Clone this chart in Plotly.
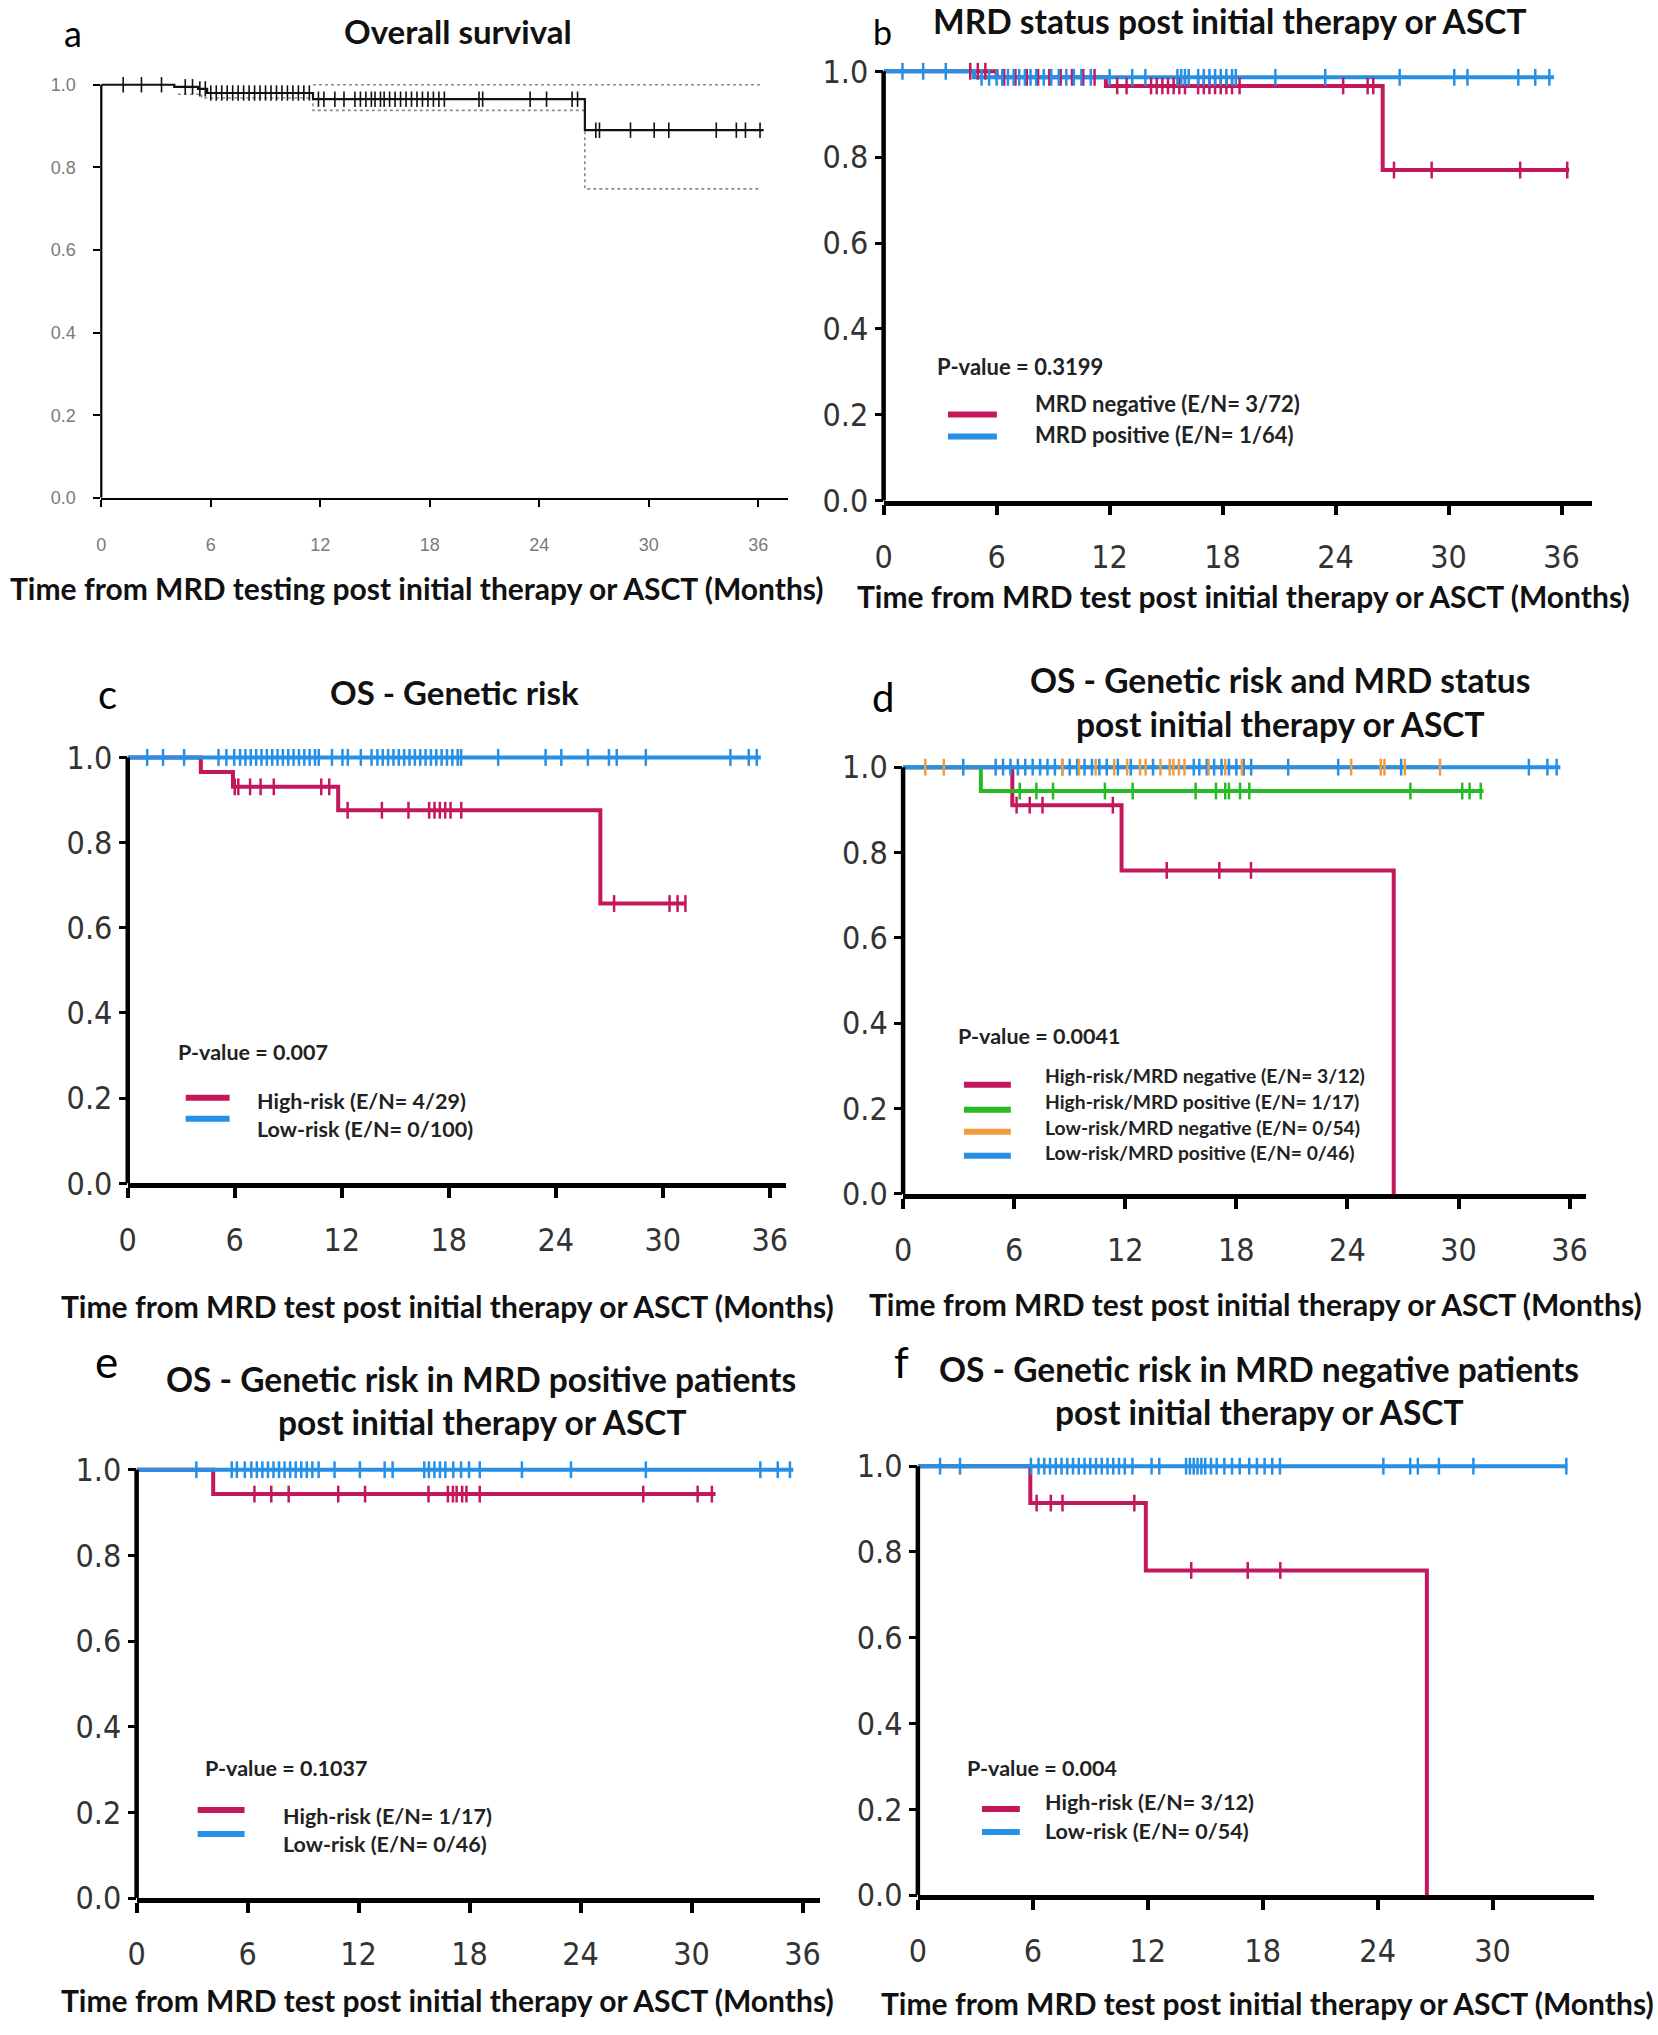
import plotly.graph_objects as go

W, H = 1658, 2035

CRIMSON = "#C4185C"
BLUE = "#2590E6"
GREEN = "#25BB25"
ORANGE = "#F29C40"
GREY = "#8C8C8C"

# ---------------- data ----------------
# panel a: overall survival
a_t = [0, 4.0, 5.3, 5.8, 11.6, 26.5]
a_s = [1.0, 0.995, 0.99, 0.98, 0.965, 0.89]
a_end = 36.3
a_lo_t = [4.2, 5.5, 11.6, 26.5]
a_lo_s = [0.977, 0.968, 0.938, 0.748]
a_hi_t = [11.6]
a_hi_s = [1.0]
a_ci_end = 36.1
a_cens = [1.2, 2.2, 3.3, 4.6, 5.0, 5.4, 5.7, 6.0, 6.3, 6.6, 6.9, 7.2, 7.5, 7.8, 8.1, 8.4, 8.7,
          9.0, 9.3, 9.6, 9.9, 10.2, 10.5, 10.8, 11.1, 11.4, 11.9, 12.2, 12.8, 13.3, 13.9, 14.2,
          14.5, 14.8, 15.0, 15.3, 15.5, 15.8, 16.1, 16.4, 16.7, 17.0, 17.3, 17.6, 17.9, 18.2,
          18.5, 18.8, 20.7, 20.9, 23.5, 24.4, 25.8, 26.1, 27.1, 27.3, 29.0, 30.3, 31.1, 33.7,
          34.8, 35.3, 36.1]

# panel b: MRD status
b_neg_t = [0, 6.0, 11.8, 26.5]
b_neg_s = [1.0, 0.986, 0.966, 0.77]
b_neg_end = 36.4
b_neg_cens = [4.6, 5.0, 5.4, 6.4, 7.0, 7.6, 8.2, 8.8, 9.4, 10.0, 10.6, 11.2, 12.4, 12.9, 14.2,
              14.5, 14.8, 15.1, 15.4, 15.7, 16.0, 16.7, 17.0, 17.3, 17.6, 17.9, 18.2, 18.5, 18.9,
              24.4, 25.7, 26.0, 27.1, 29.1, 33.8, 36.3]
b_pos_t = [0, 4.8]
b_pos_s = [1.0, 0.986]
b_pos_end = 35.6
b_pos_cens = [1.0, 2.1, 3.3, 5.2, 5.6, 6.0, 6.3, 6.6, 6.9, 7.2, 7.5, 7.8, 8.1, 8.5, 8.9, 9.3,
              9.7, 10.1, 10.5, 11.0, 12.0, 13.2, 13.9, 15.6, 15.8, 16.0, 16.2, 16.7, 17.0, 17.3,
              17.6, 17.9, 18.2, 18.5, 18.7, 20.8, 23.45, 27.4, 30.3, 31.0, 33.7, 34.6, 35.35]

# panel c: genetic risk
c_hr_t = [0, 4.1, 5.9, 11.8, 26.5]
c_hr_s = [1.0, 0.966, 0.931, 0.876, 0.657]
c_hr_end = 31.3
c_hr_cens = [6.0, 6.2, 6.86, 7.45, 8.19, 10.85, 11.3, 12.33, 14.25, 15.74, 16.9, 17.2, 17.5,
             17.8, 18.1, 18.7, 27.27, 30.38, 30.83, 31.27]
c_lr_t = [0]
c_lr_s = [1.0]
c_lr_end = 35.5
c_lr_cens = [1.09, 1.98, 3.16, 5.09, 5.53, 5.97, 6.3, 6.6, 6.9, 7.2, 7.5, 7.8, 8.1, 8.4, 8.7,
             9.0, 9.3, 9.6, 9.9, 10.2, 10.5, 10.71, 11.45, 12.04, 12.34, 13.07, 13.67, 14.0,
             14.3, 14.6, 14.9, 15.2, 15.5, 15.8, 16.1, 16.4, 16.7, 17.0, 17.3, 17.6, 17.9, 18.2,
             18.5, 18.69, 20.77, 23.43, 24.31, 25.8, 26.98, 27.42, 29.05, 33.79, 34.82, 35.27]

# panel d: genetic risk and MRD status
d_hrn_t = [0, 5.9, 11.8, 26.5]
d_hrn_s = [1.0, 0.911, 0.758, 0.0]
d_hrn_end = 26.5
d_hrn_cens = [6.13, 6.84, 7.53, 11.33, 14.24, 17.08, 18.79]
d_hrp_t = [0, 4.2]
d_hrp_s = [1.0, 0.944]
d_hrp_end = 31.35
d_hrp_cens = [6.3, 7.2, 8.1, 10.9, 12.4, 15.8, 16.9, 17.4, 17.6, 18.2, 18.7, 27.4, 30.2, 30.6,
              31.2]
d_lrn_t = [0]
d_lrn_s = [1.0]
d_lrn_end = 29.0
d_lrn_cens = [1.2, 2.2, 8.6, 9.5, 10.4, 11.4, 12.1, 12.8, 13.1, 13.9, 14.4, 14.6, 14.9, 15.2,
              16.5, 17.4, 18.3, 24.2, 25.8, 26.0, 27.1, 29.0]
d_lrp_t = [0]
d_lrp_s = [1.0]
d_lrp_end = 35.5
d_lrp_cens = [3.25, 5.0, 5.4, 5.8, 6.2, 6.6, 7.0, 7.4, 7.8, 8.2, 8.6, 9.0, 9.4, 9.8, 10.2, 10.6,
              11.0, 11.6, 12.3, 13.5, 15.7, 16.0, 16.4, 16.8, 17.2, 17.6, 18.0, 18.4, 18.8, 20.8,
              23.5, 26.9, 33.8, 34.8, 35.3]

# panel e: genetic risk in MRD positive
e_hr_t = [0, 4.14]
e_hr_s = [1.0, 0.943]
e_hr_end = 31.3
e_hr_cens = [6.37, 7.28, 8.22, 10.9, 12.35, 15.78, 16.83, 17.1, 17.3, 17.6, 17.83, 18.55, 27.39,
             30.33, 31.1]
e_lr_t = [0]
e_lr_s = [1.0]
e_lr_end = 35.5
e_lr_cens = [3.23, 5.14, 5.42, 5.85, 6.2, 6.5, 6.8, 7.1, 7.4, 7.7, 8.0, 8.3, 8.6, 8.9, 9.2, 9.5,
             9.84, 10.7, 12.07, 13.41, 13.84, 15.55, 15.8, 16.1, 16.4, 16.69, 17.12, 17.54,
             17.97, 18.55, 20.83, 23.48, 27.53, 33.72, 34.66, 35.32]

# panel f: genetic risk in MRD negative
f_hr_t = [0, 5.87, 11.9, 26.57]
f_hr_s = [1.0, 0.914, 0.757, 0.0]
f_hr_end = 26.57
f_hr_cens = [6.2, 6.94, 7.55, 11.3, 14.27, 17.22, 18.92]
f_lr_t = [0]
f_lr_s = [1.0]
f_lr_end = 33.9
f_lr_cens = [1.16, 2.2, 5.9, 6.3, 6.6, 6.9, 7.2, 7.5, 7.8, 8.1, 8.4, 8.7, 9.0, 9.3, 9.6, 9.9,
             10.2, 10.5, 10.8, 11.2, 12.2, 12.6, 14.0, 14.2, 14.4, 14.6, 14.8, 15.0, 15.3, 15.6,
             16.0, 16.4, 16.8, 17.3, 17.7, 18.1, 18.5, 18.9, 24.3, 25.7, 26.1, 27.2, 29.0, 33.85]

x_ticks_36 = [0, 6, 12, 18, 24, 30, 36]
x_ticks_30 = [0, 6, 12, 18, 24, 30]
y_ticks = [0.0, 0.2, 0.4, 0.6, 0.8, 1.0]

# ---------------- layout geometry (target pixels) ----------------
SPEC = {
    1: dict(x0=99.4, ppm=18.289, xmax=37.65, y0=496.2, ppu=412.4),
    2: dict(x0=883.5, ppm=18.875, xmax=37.6, y0=499.0, ppu=428.6),
    3: dict(x0=125.9, ppm=17.875, xmax=36.9, y0=1180.5, ppu=425.2),
    4: dict(x0=903.0, ppm=18.556, xmax=36.9, y0=1191.0, ppu=426.0),
    5: dict(x0=134.8, ppm=18.539, xmax=36.94, y0=1894.0, ppu=427.7),
    6: dict(x0=917.8, ppm=19.2, xmax=35.3, y0=1891.0, ppu=428.2),
}
YTOP = 1.02

# correction measured between requested and photographed positions
SX, CX = 0.9956, 6.9
SY, CY = 0.984, 9.2
TEXT_DY = -4.5


def fx(px):
    return (px - CX) / SX


def fy(py):
    return (py - CY) / SY


fig = go.Figure()


def surv_at(ts, ss, t):
    s = ss[0]
    for ti, si in zip(ts, ss):
        if t >= ti:
            s = si
    return s


def add_curve(n, ts, ss, end, color, width, dash="solid"):
    sfx = "" if n == 1 else str(n)
    fig.add_trace(go.Scatter(
        x=list(ts) + [end], y=list(ss) + [ss[-1]], mode="lines",
        line=dict(color=color, width=width, shape="hv", dash=dash),
        xaxis="x" + sfx, yaxis="y" + sfx, showlegend=False, hoverinfo="skip"))


def add_cens(n, ts, ss, cens, color, size=12, lw=2.5):
    sfx = "" if n == 1 else str(n)
    fig.add_trace(go.Scatter(
        x=cens, y=[surv_at(ts, ss, c) for c in cens], mode="markers",
        marker=dict(symbol="line-ns", size=size, line=dict(width=lw, color=color)),
        xaxis="x" + sfx, yaxis="y" + sfx, showlegend=False, cliponaxis=False,
        hoverinfo="skip"))


# panel a
add_curve(1, a_hi_t, a_hi_s, a_ci_end, GREY, 1.6, "dot")
add_curve(1, a_lo_t, a_lo_s, a_ci_end, GREY, 1.6, "dot")
add_curve(1, a_t, a_s, a_end, "#111111", 2.2)
add_cens(1, a_t, a_s, a_cens, "#111111", size=11, lw=1.6)

# panel b
add_curve(2, b_neg_t, b_neg_s, b_neg_end, CRIMSON, 4)
add_curve(2, b_pos_t, b_pos_s, b_pos_end, BLUE, 4)
add_cens(2, b_neg_t, b_neg_s, b_neg_cens, CRIMSON)
add_cens(2, b_pos_t, b_pos_s, b_pos_cens, BLUE)

# panel c
add_curve(3, c_hr_t, c_hr_s, c_hr_end, CRIMSON, 4)
add_curve(3, c_lr_t, c_lr_s, c_lr_end, BLUE, 4)
add_cens(3, c_hr_t, c_hr_s, c_hr_cens, CRIMSON)
add_cens(3, c_lr_t, c_lr_s, c_lr_cens, BLUE)

# panel d
add_curve(4, d_hrn_t, d_hrn_s, d_hrn_end, CRIMSON, 4)
add_curve(4, d_hrp_t, d_hrp_s, d_hrp_end, GREEN, 4)
add_curve(4, d_lrn_t, d_lrn_s, d_lrn_end, ORANGE, 4)
add_curve(4, d_lrp_t, d_lrp_s, d_lrp_end, BLUE, 4)
add_cens(4, d_hrn_t, d_hrn_s, d_hrn_cens, CRIMSON)
add_cens(4, d_hrp_t, d_hrp_s, d_hrp_cens, GREEN)
add_cens(4, d_lrp_t, d_lrp_s, d_lrp_cens, BLUE)
add_cens(4, d_lrn_t, d_lrn_s, d_lrn_cens, ORANGE)

# panel e
add_curve(5, e_hr_t, e_hr_s, e_hr_end, CRIMSON, 4)
add_curve(5, e_lr_t, e_lr_s, e_lr_end, BLUE, 4)
add_cens(5, e_hr_t, e_hr_s, e_hr_cens, CRIMSON)
add_cens(5, e_lr_t, e_lr_s, e_lr_cens, BLUE)

# panel f
add_curve(6, f_hr_t, f_hr_s, f_hr_end, CRIMSON, 4)
add_curve(6, f_lr_t, f_lr_s, f_lr_end, BLUE, 4)
add_cens(6, f_hr_t, f_hr_s, f_hr_cens, CRIMSON)
add_cens(6, f_lr_t, f_lr_s, f_lr_cens, BLUE)

# ---------------- axes ----------------
TICKFONT = "Liberation Sans Narrow, DejaVu Sans Condensed, Arial Narrow, Liberation Sans, sans-serif"
layout = {}
shapes = []
for n, sp in SPEC.items():
    sfx = "" if n == 1 else str(n)
    small = n == 1
    x0 = fx(sp["x0"])
    ppm = sp["ppm"] / SX
    y0 = fy(sp["y0"])
    ppu = sp["ppu"] / SY
    xd = [x0 / W, (x0 + ppm * sp["xmax"]) / W]
    yd = [1 - y0 / H, 1 - (y0 - ppu * YTOP) / H]
    xt = x_ticks_30 if n == 6 else x_ticks_36
    layout["xaxis" + sfx] = dict(
        domain=xd, range=[0, sp["xmax"]], anchor="y" + sfx,
        tickvals=xt, ticktext=[str(v) for v in xt],
        showline=True, linecolor="black", linewidth=2.2 if small else 4.5,
        ticks="outside", ticklen=7 if small else 10, tickwidth=1.8 if small else 4,
        tickcolor="black", showgrid=False, zeroline=False,
        ticklabelstandoff=22 if small else 14,
        tickfont=dict(family="Liberation Sans, Arial, sans-serif" if small else TICKFONT,
                      size=18 if small else 32, color="#7a7a7a" if small else "#333333"),
    )
    layout["yaxis" + sfx] = dict(
        domain=yd, range=[0, YTOP], anchor="x" + sfx,
        tickvals=y_ticks, ticktext=["%.1f" % v for v in y_ticks],
        showline=False, ticks="outside", ticklen=7 if small else 8,
        tickwidth=1.8 if small else 3, tickcolor="black",
        showgrid=False, zeroline=False,
        ticklabelstandoff=14 if small else 0,
        tickfont=dict(family="Liberation Sans, Arial, sans-serif" if small else TICKFONT,
                      size=18 if small else 32, color="#7a7a7a" if small else "#333333"),
    )
    shapes.append(dict(type="line", xref="x" + sfx + " domain", yref="y" + sfx,
                       x0=0, x1=0, y0=0, y1=1.0,
                       line=dict(color="black", width=2.2 if small else 4.5)))

TITLEFONT = "Lato, Open Sans, sans-serif"
annotations = []


def ann(text, px, py, size, bold=True, xanchor="center", color="#111111"):
    annotations.append(dict(
        text=text, x=fx(px) / W, y=1 - fy(py + TEXT_DY) / H, xref="paper", yref="paper",
        xanchor=xanchor, yanchor="middle", showarrow=False,
        font=dict(family=TITLEFONT, size=size, color=color,
                  weight=700 if bold else 400)))


def top_letter(text, px, size):
    # letters that sit against the top edge: anchored by their top so they stay inside
    annotations.append(dict(
        text=text, x=fx(px) / W, y=1.0, xref="paper", yref="paper",
        xanchor="center", yanchor="top", showarrow=False, borderpad=0,
        font=dict(family=TITLEFONT, size=size, color="black", weight=400)))


def legend_line(px0, px1, py, color):
    shapes.append(dict(type="line", xref="paper", yref="paper",
                       x0=fx(px0) / W, x1=fx(px1) / W,
                       y0=1 - fy(py) / H, y1=1 - fy(py) / H,
                       line=dict(color=color, width=6)))


# panel letters
top_letter("a", 71, 36)
top_letter("b", 882, 34)
ann("c", 106, 696, 40, bold=False, color="black")
ann("d", 883, 699, 40, bold=False, color="black")
ann("e", 105, 1362, 44, bold=False, color="black")
ann("f", 901, 1363, 42, bold=False, color="black")

# titles
ann("Overall survival", 457, 35, 33)
ann("MRD status post initial therapy or ASCT", 1231, 25, 33.5)
ann("OS - Genetic risk", 453, 694, 33)
ann("OS - Genetic risk and MRD status", 1281, 683, 33.5)
ann("post initial therapy or ASCT", 1281, 726, 33.5)
ann("OS - Genetic risk in MRD positive patients", 480, 1380, 33.5)
ann("post initial therapy or ASCT", 481, 1423, 33.5)
ann("OS - Genetic risk in MRD negative patients", 1260, 1370, 33.5)
ann("post initial therapy or ASCT", 1260, 1413, 33.5)

# axis titles
ann("Time from MRD testing post initial therapy or ASCT (Months)", 416, 591, 30)
ann("Time from MRD test post initial therapy or ASCT (Months)", 1244, 599, 30)
ann("Time from MRD test post initial therapy or ASCT (Months)", 446, 1307, 30)
ann("Time from MRD test post initial therapy or ASCT (Months)", 1256, 1305, 30)
ann("Time from MRD test post initial therapy or ASCT (Months)", 446, 2000, 30)
ann("Time from MRD test post initial therapy or ASCT (Months)", 1268, 2003, 30)

# legends (panel b)
ann("P-value = 0.3199", 935, 370, 22, xanchor="left", color="#222222")
legend_line(948, 997, 413, CRIMSON)
legend_line(948, 997, 435, BLUE)
ann("MRD negative (E/N= 3/72)", 1033, 407, 22, xanchor="left", color="#222222")
ann("MRD positive (E/N= 1/64)", 1033, 437, 22, xanchor="left", color="#222222")

# panel c
ann("P-value = 0.007", 174, 1054, 21.5, xanchor="left", color="#222222")
legend_line(184, 228, 1095, CRIMSON)
legend_line(184, 228, 1116, BLUE)
ann("High-risk (E/N= 4/29)", 253, 1103, 21.5, xanchor="left", color="#222222")
ann("Low-risk (E/N= 0/100)", 253, 1131, 21.5, xanchor="left", color="#222222")

# panel d
ann("P-value = 0.0041", 956, 1038, 21.5, xanchor="left", color="#222222")
legend_line(964, 1011, 1082, CRIMSON)
legend_line(964, 1011, 1107, GREEN)
legend_line(964, 1011, 1129, ORANGE)
legend_line(964, 1011, 1153, BLUE)
ann("High-risk/MRD negative (E/N= 3/12)", 1043, 1077, 19.3, xanchor="left", color="#222222")
ann("High-risk/MRD positive (E/N= 1/17)", 1043, 1103, 19.3, xanchor="left", color="#222222")
ann("Low-risk/MRD negative (E/N= 0/54)", 1043, 1129, 19.3, xanchor="left", color="#222222")
ann("Low-risk/MRD positive (E/N= 0/46)", 1043, 1154, 19.3, xanchor="left", color="#222222")

# panel e
ann("P-value = 0.1037", 201, 1769, 21.5, xanchor="left", color="#222222")
legend_line(196, 243, 1806, CRIMSON)
legend_line(196, 243, 1830, BLUE)
ann("High-risk (E/N= 1/17)", 280, 1816, 21.5, xanchor="left", color="#222222")
ann("Low-risk (E/N= 0/46)", 280, 1844, 21.5, xanchor="left", color="#222222")

# panel f
ann("P-value = 0.004", 965, 1769, 21.5, xanchor="left", color="#222222")
legend_line(982, 1020, 1805, CRIMSON)
legend_line(982, 1020, 1828, BLUE)
ann("High-risk (E/N= 3/12)", 1043, 1803, 21.5, xanchor="left", color="#222222")
ann("Low-risk (E/N= 0/54)", 1043, 1831, 21.5, xanchor="left", color="#222222")

fig.update_layout(
    width=W, height=H, margin=dict(l=0, r=0, t=0, b=0),
    paper_bgcolor="white", plot_bgcolor="white",
    showlegend=False, shapes=shapes, annotations=annotations, **layout)

fig.write_html(
    "out.html",
    config={"displayModeBar": False},
    post_script="document.body.style.margin='0px';document.body.style.overflow='hidden';")
